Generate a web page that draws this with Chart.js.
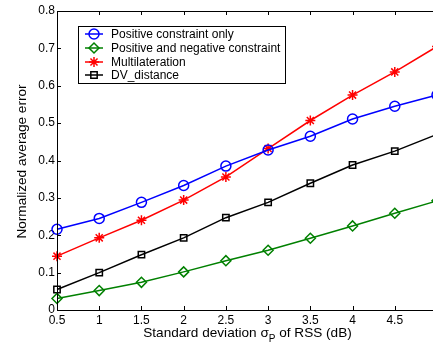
<!DOCTYPE html>
<html>
<head>
<meta charset="utf-8">
<script src="https://cdn.jsdelivr.net/npm/chart.js@4.4.1/dist/chart.umd.min.js"></script>
<style>
  html, body { margin: 0; padding: 0; background: #fff; overflow: hidden; }
  #wrap { width: 433px; height: 344px; overflow: hidden; }
  canvas { display: block; }
</style>
</head>
<body>
<div id="wrap"><canvas id="lineChart" width="450" height="344"></canvas></div>
<script>
// values
const sigmaP = [0.5, 1, 1.5, 2, 2.5, 3, 3.5, 4, 4.5, 5];
const positiveOnly = [0.216, 0.245, 0.288, 0.333, 0.385, 0.428, 0.465, 0.511, 0.545, 0.575];
const positiveNegative = [0.031, 0.052, 0.074, 0.102, 0.132, 0.160, 0.192, 0.225, 0.259, 0.292];
const multilateration = [0.144, 0.193, 0.240, 0.294, 0.356, 0.432, 0.507, 0.575, 0.637, 0.705];
const dvDistance = [0.055, 0.100, 0.148, 0.193, 0.247, 0.288, 0.339, 0.388, 0.425, 0.470];
const seriesNames = ['Positive constraint only', 'Positive and negative constraint', 'Multilateration', 'DV_distance'];
const yTicks = [0, 0.1, 0.2, 0.3, 0.4, 0.5, 0.6, 0.7, 0.8];

const FONT = '"Liberation Sans", Arial, Helvetica, sans-serif';

function toPoints(values) {
  return values.map((v, i) => ({ x: sigmaP[i], y: v }));
}

function makeDataset(label, values, color, style, radius) {
  return {
    label: label,
    data: toPoints(values),
    borderColor: color,
    backgroundColor: 'rgba(0,0,0,0)',
    pointBorderColor: color,
    pointBackgroundColor: 'rgba(0,0,0,0)',
    pointStyle: style,
    pointRadius: radius,
    pointBorderWidth: 1.5,
    borderWidth: 1.5,
    tension: 0,
    clip: false
  };
}

// axes box, inward ticks, titles and legend drawn MATLAB style
const matlabFrame = {
  id: 'matlabFrame',
  afterDatasetsDraw(chart) {
    const ctx = chart.ctx;
    const a = chart.chartArea;
    const xs = chart.scales.x;
    const ys = chart.scales.y;
    ctx.save();
    ctx.strokeStyle = '#000';
    ctx.lineWidth = 1;
    ctx.strokeRect(Math.round(a.left) + 0.5, Math.round(a.top) + 0.5, a.right - a.left, a.bottom - a.top);

    ctx.beginPath();
    xs.ticks.forEach(t => {
      const px = Math.round(xs.getPixelForValue(t.value)) + 0.5;
      ctx.moveTo(px, a.bottom); ctx.lineTo(px, a.bottom - 4);
      ctx.moveTo(px, a.top); ctx.lineTo(px, a.top + 4);
    });
    ys.ticks.forEach(t => {
      const py = Math.round(ys.getPixelForValue(t.value)) + 0.5;
      ctx.moveTo(a.left, py); ctx.lineTo(a.left + 4, py);
      ctx.moveTo(a.right, py); ctx.lineTo(a.right - 4, py);
    });
    ctx.stroke();

    // x title with subscript P
    ctx.fillStyle = '#000';
    ctx.textBaseline = 'alphabetic';
    ctx.textAlign = 'left';
    const big = '13.6px ' + FONT;
    const small = '10px ' + FONT;
    const part1 = 'Standard deviation \u03c3';
    const part2 = 'P';
    const part3 = ' of RSS (dB)';
    ctx.font = big;
    const w1 = ctx.measureText(part1).width;
    const w3 = ctx.measureText(part3).width;
    ctx.font = small;
    const w2 = ctx.measureText(part2).width;
    let x0 = 247.5 - (w1 + w2 + w3) / 2;
    const yBase = 337;
    ctx.font = big;
    ctx.fillText(part1, x0, yBase);
    ctx.font = small;
    ctx.fillText(part2, x0 + w1, yBase + 5);
    ctx.font = big;
    ctx.fillText(part3, x0 + w1 + w2, yBase);

    // y title
    ctx.save();
    ctx.translate(22.5, 161.5);
    ctx.rotate(-Math.PI / 2);
    ctx.textAlign = 'center';
    ctx.textBaseline = 'middle';
    ctx.font = big;
    ctx.fillText('Normalized average error', 0, 0);
    ctx.restore();

    // legend box
    const lx = 78, ly = 26, lw = 207, lh = 57;
    ctx.fillStyle = '#fff';
    ctx.fillRect(lx, ly, lw, lh);
    ctx.strokeStyle = '#000';
    ctx.lineWidth = 1;
    ctx.strokeRect(lx + 0.5, ly + 0.5, lw, lh);
    const rows = [34, 48, 62, 75];
    chart.data.datasets.forEach((ds, i) => {
      const ry = rows[i];
      ctx.strokeStyle = ds.borderColor;
      ctx.lineWidth = 1.5;
      ctx.beginPath();
      ctx.moveTo(85, ry); ctx.lineTo(103, ry);
      ctx.stroke();
      ctx.fillStyle = 'rgba(0,0,0,0)';
      Chart.helpers.drawPoint(ctx, {
        pointStyle: ds.pointStyle,
        radius: ds.pointRadius,
        borderWidth: 1.5,
        rotation: 0
      }, 94, ry);
      ctx.fillStyle = '#000';
      ctx.font = '12px ' + FONT;
      ctx.textAlign = 'left';
      ctx.textBaseline = 'middle';
      ctx.fillText(seriesNames[i], 111, ry + 0.5);
    });
    ctx.restore();
  }
};

const line = document.getElementById('lineChart');
const lineChart = new Chart(line, {
  type: 'line',
  data: {
    datasets: [
      makeDataset(seriesNames[0], positiveOnly, '#0000ff', 'circle', 5),
      makeDataset(seriesNames[1], positiveNegative, '#008000', 'rectRot', 5),
      makeDataset(seriesNames[2], multilateration, '#ff0000', 'star', 5),
      makeDataset(seriesNames[3], dvDistance, '#000000', 'rect', 4.5)
    ]
  },
  options: {
    responsive: false,
    animation: false,
    layout: { padding: { top: 11, right: 13, left: 0, bottom: 0 } },
    scales: {
      x: {
        type: 'linear',
        min: 0.5,
        max: 5,
        grid: { display: false, drawTicks: false },
        border: { display: false },
        ticks: {
          stepSize: 0.5,
          padding: 3,
          color: '#000',
          font: { family: FONT, size: 12 },
          maxRotation: 0,
          callback: v => String(v)
        },
        afterFit: s => { s.height = 34; }
      },
      y: {
        min: 0,
        max: 0.8,
        grid: { display: false, drawTicks: false },
        border: { display: false },
        afterBuildTicks: s => { s.ticks = yTicks.map(v => ({ value: v })); },
        ticks: {
          padding: 2,
          color: '#000',
          font: { family: FONT, size: 12 },
          callback: v => String(Math.round(v * 10) / 10)
        },
        afterFit: s => { s.width = 57; }
      }
    },
    plugins: {
      legend: { display: false },
      tooltip: { enabled: false }
    }
  },
  plugins: [matlabFrame]
});
</script>
</body>
</html>
